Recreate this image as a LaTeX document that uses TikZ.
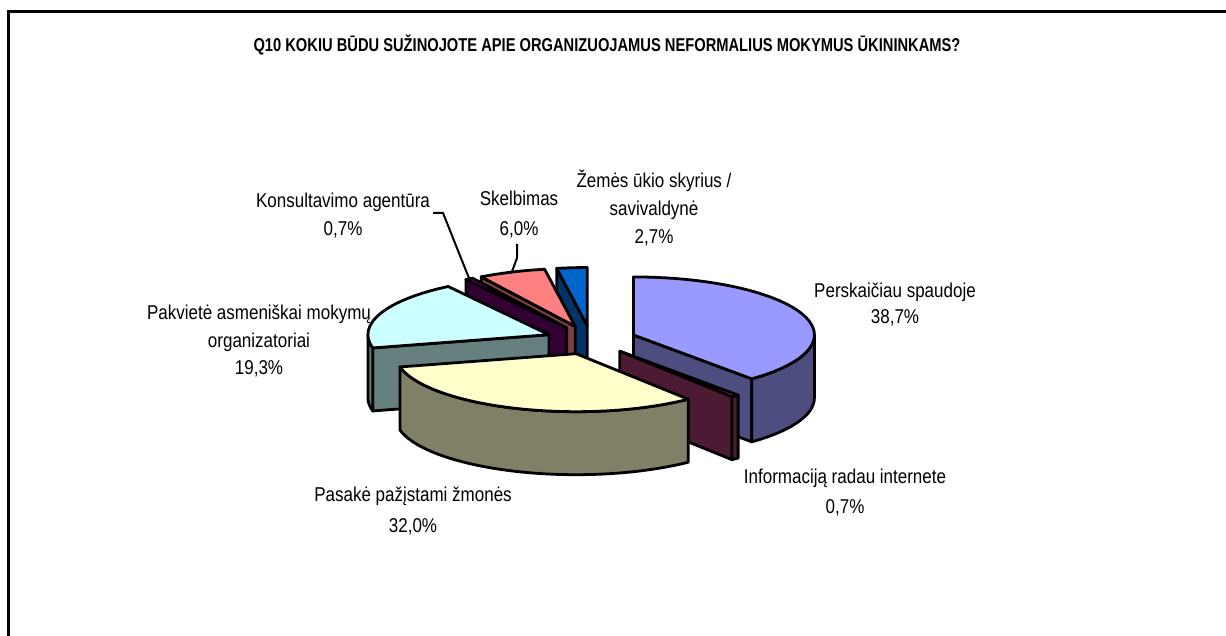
\documentclass[tikz,border=0pt]{standalone}
\usepackage{fontspec}
\setmainfont{Liberation Sans}[FakeStretch=0.85]
\newfontfamily\titlefont{Liberation Sans}[FakeStretch=0.79]
\usetikzlibrary{calc}

\definecolor{persTop}{HTML}{9999FF}\definecolor{persSide}{HTML}{4D4D80}
\definecolor{infoTop}{HTML}{993366}\definecolor{infoSide}{HTML}{4D1A33}
\definecolor{pasTop}{HTML}{FFFFCC}\definecolor{pasSide}{HTML}{808066}
\definecolor{pakTop}{HTML}{CCFFFF}\definecolor{pakSide}{HTML}{668080}
\definecolor{konsTop}{HTML}{660066}\definecolor{konsSide}{HTML}{330033}
\definecolor{skelTop}{HTML}{FF8080}\definecolor{skelSide}{HTML}{804040}
\definecolor{zemTop}{HTML}{0066CC}\definecolor{zemSide}{HTML}{003366}

\tikzset{
  pieline/.style={draw=black, line width=2.8pt, line join=round},
  lbl/.style={font=\fontsize{20}{26}\selectfont, align=center, inner sep=0pt},
  leader/.style={draw=black, line width=2pt}
}

% #1 name, #2 start angle, #3 end angle (clockwise from top), #4 top colour, #5 side colour
\newcommand{\pieSlice}[5]{%
  \pgfmathsetmacro\sliceMid{(#2+#3)/2}
  \pgfmathsetmacro\sliceX{591+0.25*181*sin(\sliceMid)}
  \pgfmathsetmacro\sliceY{-340+0.25*58*cos(\sliceMid)}
  \coordinate (#1) at (\sliceX,\sliceY);
  \coordinate (#1-tip) at ($(#1)+({181*sin(\sliceMid)},{58*cos(\sliceMid)})$);
  % side at start edge
  \pgfmathtruncatemacro\sliceShow{sin(#2)<-0.01}
  \ifnum\sliceShow=1
    \filldraw[pieline,fill=#5] (#1) -- ++({181*sin(#2)},{58*cos(#2)}) -- ++(0,-63) -- ++({-181*sin(#2)},{-58*cos(#2)}) -- cycle;
  \fi
  % side at end edge
  \pgfmathtruncatemacro\sliceShow{sin(#3)>0.01}
  \ifnum\sliceShow=1
    \filldraw[pieline,fill=#5] (#1) -- ++({181*sin(#3)},{58*cos(#3)}) -- ++(0,-63) -- ++({-181*sin(#3)},{-58*cos(#3)}) -- cycle;
  \fi
  % outer rim
  \pgfmathsetmacro\rimA{max(#2,90)}
  \pgfmathsetmacro\rimB{min(#3,270)}
  \pgfmathtruncatemacro\sliceShow{\rimB>\rimA}
  \ifnum\sliceShow=1
    \filldraw[pieline,fill=#5] ($(#1)+({181*sin(\rimA)},{58*cos(\rimA)})$)
      arc[start angle={90-\rimA}, end angle={90-\rimB}, x radius=181, y radius=58] -- ++(0,-63)
      arc[start angle={90-\rimB}, end angle={90-\rimA}, x radius=181, y radius=58] -- cycle;
  \fi
  % top
  \filldraw[pieline,fill=#4] (#1) -- ++({181*sin(#2)},{58*cos(#2)})
    arc[start angle={90-#2}, end angle={90-#3}, x radius=181, y radius=58] -- cycle;
}

\begin{document}
\begin{tikzpicture}[x=1pt, y=1pt]
  \fill[white] (0,0) rectangle (1226,-636);
  \useasboundingbox (0,0) rectangle (1226,-636);

  % frame
  \draw[line width=3pt] (8,-636) -- (8,-11.5) -- (1226,-11.5);

  \node[font=\titlefont\bfseries\fontsize{18.6}{22}\selectfont] (title) at (607,-45)
    {Q10 KOKIU BŪDU SUŽINOJOTE APIE ORGANIZUOJAMUS NEFORMALIUS MOKYMUS ŪKININKAMS?};

  % slices, back to front
  \pieSlice{zem}{350.29}{360}{zemTop}{zemSide}
  \pieSlice{skel}{328.71}{350.29}{skelTop}{skelSide}
  \pieSlice{kons}{326.19}{328.71}{konsTop}{konsSide}
  \pieSlice{pak}{256.78}{326.19}{pakTop}{pakSide}
  \pieSlice{pers}{0}{139.18}{persTop}{persSide}
  \pieSlice{info}{139.18}{141.70}{infoTop}{infoSide}
  \pieSlice{pas}{141.70}{256.78}{pasTop}{pasSide}

  % labels
  \node[lbl] (persLbl) at (895,-304) {Perskaičiau spaudoje\\38,7\%};
  \node[lbl] (infoLbl) at (845,-493) {Informaciją radau internete\\[4pt]0,7\%};
  \node[lbl] (pasLbl) at (413,-511) {Pasakė pažįstami žmonės\\[5pt]32,0\%};
  \node[lbl] (pakLbl) at (259,-341) {Pakvietė asmeniškai mokymų\\[1.5pt]organizatoriai\\[1.5pt]19,3\%};
  \node[lbl] (konsLbl) at (343,-216) {Konsultavimo agentūra\\[2pt]0,7\%};
  \node[lbl] (skelLbl) at (519,-215) {Skelbimas\\[4pt]6,0\%};
  \node[lbl] (zemLbl) at (654,-208) {Žemės ūkio skyrius /\\[2pt]savivaldynė\\[2pt]2,7\%};

  % leader lines
  \coordinate (konsStart) at (433,-213);
  \coordinate (skelStart) at (517,-244);
  \draw[leader] (konsStart) -- ++(10,0) -- (kons-tip);
  \draw[leader] (skelStart) -- ++(0,-14) -- (skel-tip);
\end{tikzpicture}
\end{document}
